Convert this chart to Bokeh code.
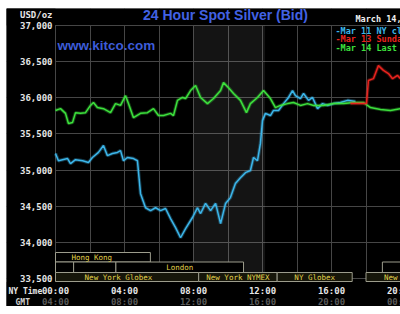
from bokeh.plotting import figure
from bokeh.models import FixedTicker, Label, BoxAnnotation, Range1d, ColumnDataSource
from bokeh.core.properties import value
from bokeh.embed import file_html
from bokeh.resources import INLINE

# ---------------- data ----------------
cyan_hours = [0.00, 0.17, 0.70, 0.87, 1.16, 1.57, 1.91, 2.14, 2.49, 2.78, 3.01, 3.30, 3.59, 3.77,
              3.94, 4.17, 4.52, 4.75, 4.93, 5.22, 5.51, 5.80, 6.09, 6.38, 6.67, 6.96, 7.25, 7.54,
              7.94, 8.23, 8.41, 8.70, 8.99, 9.28, 9.57, 9.86, 10.14, 10.43, 10.72, 11.01, 11.30,
              11.48, 11.71, 11.88, 12.00, 12.17, 12.46, 12.64, 12.93, 13.22, 13.51, 13.74, 13.91,
              14.20, 14.38, 14.67, 14.90, 15.19, 15.48, 15.77, 16.12, 16.52, 16.93, 17.39]
cyan_prices = [35230, 35130, 35160, 35090, 35145, 35130, 35105, 35175, 35245, 35340, 35200, 35230,
               35245, 35270, 35130, 35175, 35160, 35130, 34675, 34480, 34440, 34480, 34440, 34470,
               34330, 34205, 34065, 34190, 34345, 34480, 34400, 34540, 34440, 34540, 34260, 34540,
               34620, 34815, 34895, 34965, 34995, 35175, 35130, 35370, 35685, 35785, 35755, 35825,
               35825, 35920, 36005, 36100, 36030, 35990, 36060, 35965, 36005, 35850, 35920, 35895,
               35920, 35935, 35965, 35950]

green_hours = [0.00, 0.29, 0.58, 0.75, 0.99, 1.16, 1.45, 1.74, 2.03, 2.20, 2.43, 2.78, 3.19, 3.48,
               3.77, 4.06, 4.23, 4.52, 4.93, 5.33, 5.68, 5.97, 6.26, 6.67, 6.84, 7.07, 7.36, 7.54,
               7.83, 8.12, 8.41, 8.81, 9.16, 9.57, 9.74, 10.03, 10.32, 10.72, 11.07, 11.30, 11.71,
               12.06, 12.46, 12.75, 13.04, 13.45, 13.80, 14.20, 14.61, 14.96, 15.54, 16.12, 16.70,
               17.28, 17.86, 18.26, 18.84, 19.42, 20.00]
green_prices = [35825, 35850, 35785, 35645, 35660, 35795, 35785, 35795, 35895, 35935, 35865, 35850,
                35795, 35920, 35895, 36030, 35920, 35725, 35785, 35795, 35850, 35755, 35755, 35785,
                35755, 35965, 36005, 35990, 36100, 36170, 36005, 35920, 35990, 36100, 36210, 36140,
                36060, 35965, 35795, 35920, 36005, 36100, 35990, 35865, 35895, 35920, 35935, 35895,
                35920, 35895, 35895, 35920, 35920, 35935, 35935, 35865, 35840, 35825, 35850]

red_hours = [17.10, 18.03, 18.14, 18.43, 18.72, 19.01, 19.30, 19.54, 19.83, 20.00]
red_prices = [35920, 35920, 36240, 36265, 36445, 36380, 36335, 36265, 36310, 36265]

y_ticks = [33500, 34000, 34500, 35000, 35500, 36000, 36500, 37000]
x_ticks = [0, 4, 8, 12, 16, 20]
ny_labels = ["00:00", "04:00", "08:00", "12:00", "16:00", "20:00"]
gmt_labels = ["04:00", "08:00", "12:00", "16:00", "20:00", "00:00"]
grid_hours = [0, 2, 4, 6, 8, 10, 12, 14, 16, 18, 20]

session_names = ["Hong Kong", "", "", "London", "", "New York Globex", "New York NYMEX",
                 "NY Globex", "New York Globex"]
session_start = [-1.3, -1.0, 1.05, 3.5, 18.95, -1.0, 8.3, 12.85, 18.0]
session_end = [5.5, 1.05, 3.5, 10.9, 24.0, 8.3, 12.85, 17.2, 24.0]
session_row = [0, 1, 1, 1, 1, 2, 2, 2, 2]

band_hours = [8.0, 12.15]

legend_texts = ["-Mar 11 NY close", "-Mar 13 Sunday open", "-Mar 14 Last"]
date_text = "March 14, 2011"

# ---------------- layout / styles ----------------
CYAN, GREEN, RED = "#3cb6ea", "#3de03d", "#e8231e"
MONO = "DejaVu Sans Mono"
TXT = "#e6e6e6"

# picture-pixel helpers: chart frame spans x 55..400 (0h..20h), y 25..281 (37,000..33,460)
def hx(px):
    return (px - 55) / 17.25

def vy(py):
    return 37000 - (py - 25) * 3540 / 256.0

p = figure(width=394, height=298, output_backend="svg", toolbar_location=None,
           x_range=Range1d(hx(6), hx(400)), y_range=Range1d(vy(306), vy(8)),
           background_fill_color="#000000", border_fill_color="#000000",
           min_border=0, x_axis_location=None, y_axis_location=None)
p.margin = (8, 0, 8, 6)
p.outline_line_color = None

# grid
p.xgrid.ticker = FixedTicker(ticks=grid_hours)
p.ygrid.ticker = FixedTicker(ticks=y_ticks)
p.xgrid.grid_line_color = "#464646"
p.ygrid.grid_line_color = "#464646"

# shaded band
p.add_layout(BoxAnnotation(left=band_hours[0], right=band_hours[1], top=37000, bottom=vy(281),
                           fill_color="#ffffff", fill_alpha=0.08, line_color=None,
                           level="underlay"))
# black margins around the chart area (hide grid outside the frame)
for kw in [dict(right=hx(54.5)), dict(bottom=vy(24.5)), dict(top=vy(281.5))]:
    p.add_layout(BoxAnnotation(fill_color="#000000", fill_alpha=1.0, line_color=None,
                               level="underlay", **kw))

# session boxes
row_top = [vy(252), vy(261.5), vy(272)]
row_bot = [vy(261.5), vy(272), vy(281)]
sess = ColumnDataSource(dict(
    left=[max(s, 0) for s in session_start], right=session_end,
    top=[row_top[r] for r in session_row], bottom=[row_bot[r] for r in session_row],
    name=session_names,
    tx=[(a + b) / 2 for a, b in zip(session_start, session_end)],
    ty=[(row_top[r] + row_bot[r]) / 2 for r in session_row],
    fill=["#000000" if r < 2 else "#16160a" for r in session_row],
))
p.quad(left="left", right="right", top="top", bottom="bottom", source=sess,
       fill_color="fill", line_color="#9c9c8c", line_width=1)
p.text(x="tx", y="ty", text="name", source=sess, text_font=value(MONO),
       text_font_size="7.5px", text_color="#e2d24a", text_align="center",
       text_baseline="middle")

# series (soft glow + line)
for hrs, prc, col in [(cyan_hours, cyan_prices, CYAN), (green_hours, green_prices, GREEN),
                      (red_hours, red_prices, RED)]:
    p.line(hrs, prc, line_color=col, line_width=3.5, line_alpha=0.3)
    p.line(hrs, prc, line_color=col, line_width=1.5)

# tick labels placed through the data scales
p.text(x=[hx(52)] * len(y_ticks), y=y_ticks, text=[f"{v:,}" for v in y_ticks],
       text_font=value(MONO), text_font_style="bold", text_font_size="9px",
       text_color=TXT, text_align="right", text_baseline="middle")
p.text(x=x_ticks, y=[vy(290)] * len(x_ticks), text=ny_labels,
       text_font=value(MONO), text_font_style="bold", text_font_size="9px",
       text_color=TXT, text_align="center", text_baseline="middle")
p.text(x=x_ticks, y=[vy(301.5)] * len(x_ticks), text=gmt_labels,
       text_font=value(MONO), text_font_style="bold", text_font_size="9px",
       text_color="#5a5a5a", text_align="center", text_baseline="middle")

# other texts
def lab(text, px, py, color, size, font=MONO, style="bold", align="left"):
    p.add_layout(Label(x=hx(px), y=vy(py), text=text, text_color=color,
                       text_font=font, text_font_size=size, text_font_style=style,
                       text_align=align, text_baseline="middle"))

lab("24 Hour Spot Silver (Bid)", 225, 14, "#4262e4", "14px", font="Liberation Sans", align="center")
lab("www.kitco.com", 57, 45, "#3d5cd8", "13.5px", font="Liberation Sans")
lab("USD/oz", 52, 14, TXT, "9px", align="right")
lab(date_text, 355, 18, "#f0f0f0", "8.5px")
lab(legend_texts[0], 335, 30, CYAN, "8.5px")
lab(legend_texts[1], 335, 38.5, RED, "8.5px")
lab(legend_texts[2], 335, 47, GREEN, "8.5px")
lab("NY Time", 8, 291, TXT, "8px")
lab("GMT", 15, 302, "#cfcfcf", "8px")

open("out.html", "w").write(file_html(p, INLINE))
